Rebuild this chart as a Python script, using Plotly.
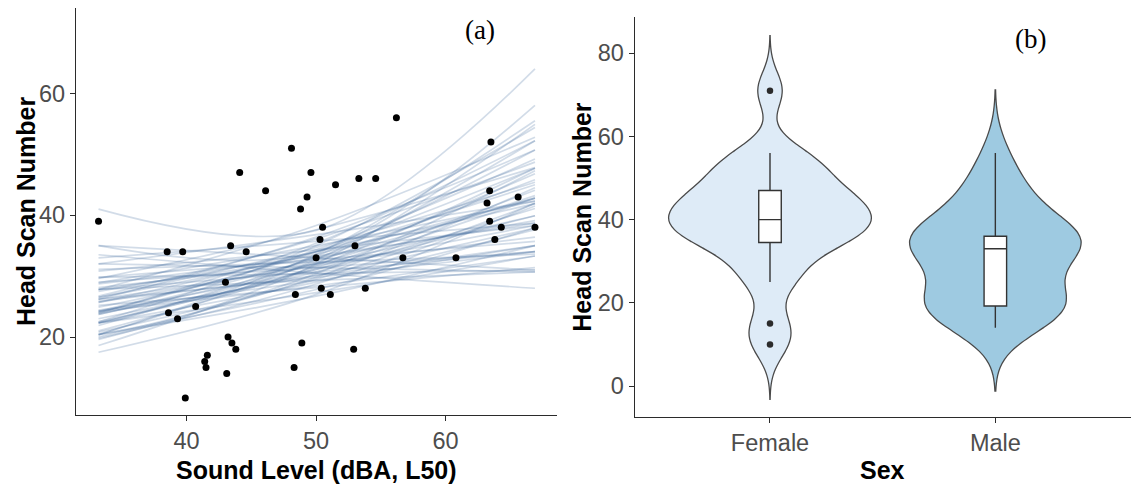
import plotly.graph_objects as go

# ---------------- data: panel (a) ----------------
sound_level = [33.2, 44.1, 46.1, 48.1, 49.6, 49.3, 48.8, 50.5, 51.5, 53.3, 54.6, 56.2,
               63.5, 63.4, 63.2, 65.6, 63.4, 64.3, 66.9, 63.8, 38.5, 39.7, 43.4, 44.6,
               50.3, 53.0, 50.0, 56.7, 60.8, 43.0, 50.4, 53.8, 48.4, 51.1, 40.7, 38.6,
               39.3, 43.2, 43.5, 43.8, 48.9, 52.9, 41.6, 41.4, 41.5, 48.3, 43.1, 39.9]
head_scans = [39, 47, 44, 51, 47, 43, 41, 38, 45, 46, 46, 56,
              52, 44, 42, 43, 39, 38, 38, 36, 34, 34, 35, 34,
              36, 35, 33, 33, 33, 29, 28, 28, 27, 27, 25, 24,
              23, 20, 19, 18, 19, 18, 17, 16, 15, 15, 14, 10]

# posterior draws of the fitted curve, read at three sound levels
curve_x = [33.2, 50.0, 66.9]
draw_left = [25.7, 27.8, 23.0, 24.2, 26.2, 22.3, 29.0, 28.9, 22.3, 21.9, 29.8, 26.7,
             24.2, 24.9, 26.2, 30.8, 20.8, 26.5, 22.5, 28.1, 23.9, 27.8, 32.0, 20.4,
             20.4, 32.0, 27.5, 23.9, 23.7, 27.8, 26.5, 20.0, 31.1, 33.0, 19.8, 28.7,
             24.2, 23.7, 20.4, 19.6, 29.6, 22.3, 24.0, 21.0, 29.8, 24.4, 26.2, 25.2,
             18.6, 27.8, 20.4, 35.0, 22.5, 25.9, 25.7, 22.3, 41.0, 35.0, 17.5, 33.5]
draw_mid = [32.0, 33.0, 30.7, 34.0, 29.8, 32.3, 31.4, 35.0, 29.0, 33.3, 30.4, 36.1,
            28.4, 32.7, 31.7, 34.3, 29.5, 33.6, 31.1, 32.0, 35.4, 29.3, 36.8, 27.8,
            32.7, 31.4, 34.0, 30.1, 33.0, 30.7, 34.7, 29.8, 32.3, 35.7, 28.7, 33.3,
            31.1, 32.0, 33.6, 30.4, 37.6, 27.3, 34.3, 31.7, 32.7, 29.3, 36.4, 28.1,
            32.0, 38.3, 26.7, 33.0, 35.0, 30.1, 34.0, 31.4, 37.5, 34.0, 27.0, 30.5]
draw_right = [39.9, 39.1, 41.1, 47.7, 34.0, 46.8, 34.0, 42.3, 37.6, 50.7, 31.0, 48.7,
              33.3, 42.8, 38.3, 38.3, 41.9, 42.8, 42.8, 36.4, 52.2, 30.7, 42.3, 37.9,
              52.2, 30.7, 41.9, 37.9, 45.8, 34.0, 45.4, 44.5, 33.6, 38.7, 41.5, 38.7,
              39.9, 43.2, 55.5, 47.3, 47.8, 33.3, 49.2, 47.7, 35.7, 35.0, 50.7, 31.4,
              54.9, 52.8, 35.0, 31.0, 54.4, 35.0, 45.0, 44.1, 64.0, 58.0, 42.0, 28.0]

left_xticks = [40, 50, 60]
left_yticks = [20, 40, 60]

# ---------------- data: panel (b) ----------------
sex_categories = ["Female", "Male"]
female_scans = [10, 15, 25, 28, 33, 35, 36, 37, 38, 40, 40, 42, 43, 45, 46, 46,
                50, 52, 54, 56, 71]
male_scans = [14, 16, 18, 19, 19, 19, 19, 20, 22, 25, 28, 30, 32, 33, 34, 35,
              35, 36, 36, 36, 36, 39, 42, 45, 47, 50, 56]
right_yticks = [0, 20, 40, 60, 80]

# ---------------- styles ----------------
SANS = "Liberation Sans, Arial, sans-serif"
SERIF = "Liberation Serif, Times New Roman, serif"
TICK_FONT = dict(family=SANS, size=23.5, color="#4D4D4D")
TITLE_FONT = dict(family=SANS, size=25, color="#000000")
AXIS_COLOR = "#2b2b2b"
LINE_COLOR = "rgba(48, 96, 148, 0.22)"
FILL = {"Female": "#DEEBF7", "Male": "#9ECAE1"}
BW = {"Female": 4.4, "Male": 5.8}
SPAN_PAD = {"Female": 13.2, "Male": 15.2}
VIOLIN_WIDTH = {"Female": 0.9, "Male": 0.76}

fig = go.Figure()

# posterior curves
for yl, ym, yr in zip(draw_left, draw_mid, draw_right):
    fig.add_trace(go.Scatter(
        x=curve_x, y=[yl, ym, yr], mode="lines",
        line=dict(color=LINE_COLOR, width=1.7, shape="spline"),
        hoverinfo="skip", showlegend=False, xaxis="x", yaxis="y"))

# observed points
fig.add_trace(go.Scatter(
    x=sound_level, y=head_scans, mode="markers",
    marker=dict(color="black", size=7, line=dict(width=0)),
    showlegend=False, xaxis="x", yaxis="y"))

# violins + boxes
groups = {"Female": female_scans, "Male": male_scans}
for sex in sex_categories:
    vals = groups[sex]
    fig.add_trace(go.Violin(
        x=[sex] * len(vals), y=vals, name=sex,
        fillcolor=FILL[sex], line=dict(color="#4a4a4a", width=1.3),
        points=False, box_visible=False, meanline_visible=False,
        width=VIOLIN_WIDTH[sex], scalemode="width",
        bandwidth=BW[sex], spanmode="manual",
        span=[min(vals) - SPAN_PAD[sex], max(vals) + SPAN_PAD[sex]],
        opacity=1, showlegend=False, xaxis="x2", yaxis="y2"))
for sex in sex_categories:
    vals = groups[sex]
    fig.add_trace(go.Box(
        x=[sex] * len(vals), y=vals, name=sex,
        width=0.1, fillcolor="white",
        line=dict(color="#333333", width=1.4),
        whiskerwidth=0, boxpoints="outliers", jitter=0, pointpos=0,
        marker=dict(color="#2b2b2b", size=6.5, line=dict(width=0)),
        showlegend=False, xaxis="x2", yaxis="y2"))

axis_common = dict(showline=True, linecolor=AXIS_COLOR, linewidth=1.3,
                   ticks="outside", ticklen=5, tickwidth=1.2, tickcolor=AXIS_COLOR,
                   showgrid=False, zeroline=False, tickfont=TICK_FONT)

fig.update_layout(
    width=1136, height=487, autosize=False,
    margin=dict(l=0, r=0, t=0, b=0),
    paper_bgcolor="white", plot_bgcolor="white",
    violinmode="overlay", boxmode="overlay",
    xaxis=dict(domain=[0.0669, 0.4903], range=[31.46, 68.6],
               tickvals=left_xticks, anchor="y", **axis_common),
    yaxis=dict(domain=[0.1478, 0.9836], range=[7.2, 74.0],
               tickvals=left_yticks, anchor="x", **axis_common),
    xaxis2=dict(domain=[0.5588, 0.9952], range=[-0.6, 1.6],
                type="category", categoryorder="array", categoryarray=sex_categories,
                anchor="y2", **axis_common),
    yaxis2=dict(domain=[0.1444, 0.9657], range=[-7.37, 88.77],
                tickvals=right_yticks, anchor="x2", **axis_common),
    annotations=[
        dict(text="<b>Head Scan Number</b>", x=0.0225, y=0.5657, xref="paper", yref="paper",
             textangle=-90, showarrow=False, font=TITLE_FONT, xanchor="center", yanchor="middle"),
        dict(text="<b>Sound Level (dBA, L50)</b>", x=0.2786, y=0.0349, xref="paper", yref="paper",
             showarrow=False, font=TITLE_FONT, xanchor="center", yanchor="middle"),
        dict(text="<b>Head Scan Number</b>", x=0.5123, y=0.555, xref="paper", yref="paper",
             textangle=-90, showarrow=False, font=TITLE_FONT, xanchor="center", yanchor="middle"),
        dict(text="<b>Sex</b>", x=0.7769, y=0.0349, xref="paper", yref="paper",
             showarrow=False, font=TITLE_FONT, xanchor="center", yanchor="middle"),
        dict(text="(a)", x=0.4225, y=0.9384, xref="paper", yref="paper",
             showarrow=False, font=dict(family=SERIF, size=27, color="black"),
             xanchor="center", yanchor="middle"),
        dict(text="(b)", x=0.9067, y=0.9198, xref="paper", yref="paper",
             showarrow=False, font=dict(family=SERIF, size=27, color="black"),
             xanchor="center", yanchor="middle"),
    ],
)

fig.write_html("out.html")
